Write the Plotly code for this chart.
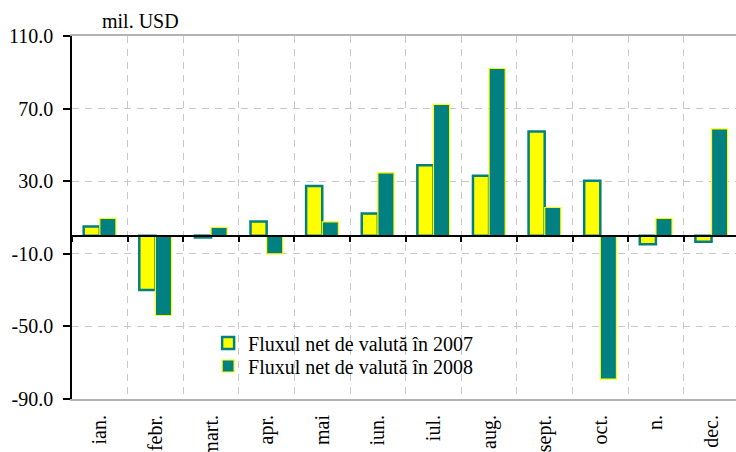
import plotly.graph_objects as go

# Monthly net currency flow, million USD
months = ["ian.", "febr.", "mart.", "apr.", "mai", "iun.",
          "iul.", "aug.", "sept.", "oct.", "n.", "dec."]
flow_2007 = [5.0, -30.0, -1.0, 7.8, 27.3, 12.2, 38.8, 33.0, 57.4, 30.2, -4.7, -3.4]
flow_2008 = [9.5, -44.0, 4.5, -10.0, 7.6, 34.6, 72.3, 92.1, 15.5, -79.0, 9.5, 58.8]
name_2007 = "Fluxul net de valută în 2007"
name_2008 = "Fluxul net de valută în 2008"
y_ticks = [-90, -50, -10, 30, 70, 110]

YELLOW = "#FFFF00"
TEAL = "#008080"
FONT = "Liberation Serif, Times New Roman, serif"
GRID = "#c8c8c8"
y_min, y_max = y_ticks[0], y_ticks[-1]

fig = go.Figure()
fig.add_trace(go.Bar(
    x=months, y=flow_2007, name=name_2007, legend="legend",
    marker=dict(color=YELLOW, line=dict(color=TEAL, width=2.5)),
))
fig.add_trace(go.Bar(
    x=months, y=flow_2008, name=name_2008, legend="legend2",
    marker=dict(color=TEAL, line=dict(color=YELLOW, width=1.2)),
))
# transparent companion trace carrying the zero-line axis with month boundaries
fig.add_trace(go.Scatter(
    x=months, y=flow_2007, xaxis="x2", yaxis="y", mode="markers",
    marker=dict(opacity=0), hoverinfo="skip", showlegend=False,
))

x_range = [-0.5, 11.44]

legend_style = dict(
    xanchor="left", yanchor="middle", bgcolor="rgba(0,0,0,0)",
    font=dict(family=FONT, size=20), itemwidth=30,
)

fig.update_layout(
    width=736, height=452,
    margin=dict(l=72, r=0, t=36, b=53),
    paper_bgcolor="white", plot_bgcolor="white",
    font=dict(family=FONT, size=20, color="black"),
    barmode="group", bargap=0.42, bargroupgap=0,
    showlegend=True,
    legend=dict(x=0.205, y=(399 - 343) / 363, **legend_style),
    legend2=dict(x=0.205, y=(399 - 366) / 363, **legend_style),
    xaxis=dict(
        type="category", range=x_range, automargin=False,
        tickangle=-90, ticks="", ticklabelstandoff=6,
        showgrid=False, zeroline=False,
        showline=True, linecolor="#b4b4b4", linewidth=2, mirror=True,
        tickfont=dict(family=FONT, size=20),
    ),
    xaxis2=dict(
        type="category", overlaying="x", range=x_range, anchor="free",
        position=(0 - y_min) / (y_max - y_min), automargin=False,
        tickson="boundaries", showticklabels=False,
        ticks="outside", ticklen=6, tickwidth=1.5, tickcolor="black",
        showline=True, linecolor="black", linewidth=1.5,
        showgrid=True, gridcolor=GRID, gridwidth=1, griddash="7px,6px",
        zeroline=False,
    ),
    yaxis=dict(
        range=[y_min, y_max], automargin=False,
        tickmode="array", tickvals=y_ticks,
        ticktext=[f"{v:.1f}" for v in y_ticks],
        ticks="outside", ticklen=7, tickwidth=1.5, tickcolor="black",
        ticklabelstandoff=6,
        showline=True, linecolor="black", linewidth=1.5,
        showgrid=True, gridcolor=GRID, gridwidth=1, griddash="7px,6px",
        zeroline=False,
        tickfont=dict(family=FONT, size=20),
    ),
)

fig.add_annotation(
    text="mil. USD", xref="paper", yref="paper", x=0.042, y=1,
    xanchor="left", yanchor="bottom", yshift=2, showarrow=False,
    font=dict(family=FONT, size=20),
)

fig.write_html("out.html")
